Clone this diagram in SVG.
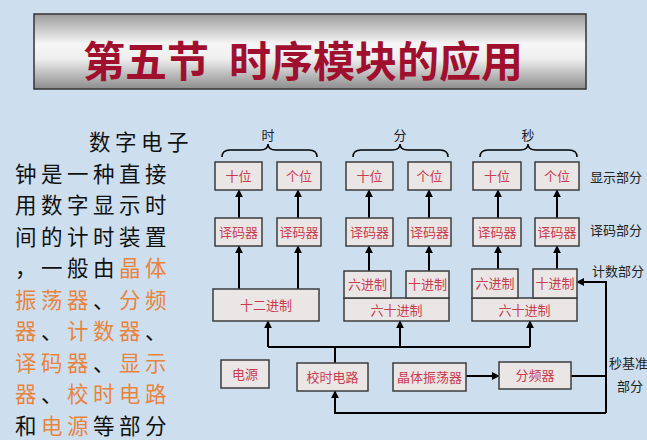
<svg xmlns="http://www.w3.org/2000/svg" width="647" height="440" viewBox="0 0 647 440">
<defs>
<linearGradient id="tg" x1="0" y1="0" x2="0" y2="1">
<stop offset="0" stop-color="#9c9c9c"/>
<stop offset="0.4" stop-color="#f6f6f6"/>
<stop offset="0.6" stop-color="#eeeeee"/>
<stop offset="1" stop-color="#8c8c8c"/>
</linearGradient>
<marker id="ah" viewBox="0 0 10 10" refX="9" refY="5" markerWidth="4" markerHeight="4" orient="auto" markerUnits="strokeWidth">
<path d="M0,0 L10,5 L0,10 z" fill="#000"/>
</marker>
</defs>
<style>
.bx{fill:#ebe6e6;stroke:#3c3c3c;stroke-width:1.5}
.bt{font-family:"Noto Sans CJK SC","Noto Sans CJK JP",sans-serif;font-size:13px;fill:#c83c50;text-anchor:middle}
.lb{font-family:"Noto Sans CJK SC","Noto Sans CJK JP",sans-serif;font-size:13px;fill:#222}
.ln{fill:none;stroke:#000;stroke-width:2}
.ar{fill:none;stroke:#000;stroke-width:2;marker-end:url(#ah)}
.br{fill:none;stroke:#000;stroke-width:1.5}
.pt{font-family:"Noto Sans CJK SC","Noto Sans CJK JP",sans-serif;font-size:21.5px;letter-spacing:4.5px;fill:#111}
.or{fill:#e8843e}
</style>
<rect x="0" y="0" width="647" height="440" fill="#cddfef"/>
<g id="title">
<rect x="34" y="14" width="552" height="75" fill="url(#tg)" stroke="#333" stroke-width="1.5"/>
<text font-family="'Noto Sans CJK SC','Noto Sans CJK JP',sans-serif" font-size="42" font-weight="bold" fill="#a0102e" y="77"><tspan x="83">第五节</tspan><tspan x="229">时序模块的应用</tspan></text>
</g>
<g id="intro">
<text class="pt"><tspan x="89" y="150">数字电子</tspan><tspan x="15" y="181.5">钟是一种直接</tspan><tspan x="15" y="213">用数字显示时</tspan><tspan x="15" y="244.5">间的计时装置</tspan><tspan x="15" y="276">，一般由</tspan><tspan class="or">晶体</tspan><tspan x="15" y="307.5" class="or">振荡器</tspan><tspan>、</tspan><tspan class="or">分频</tspan><tspan x="15" y="339" class="or">器</tspan><tspan>、</tspan><tspan class="or">计数器</tspan><tspan>、</tspan><tspan x="15" y="370.5" class="or">译码器</tspan><tspan>、</tspan><tspan class="or">显示</tspan><tspan x="15" y="402" class="or">器</tspan><tspan>、</tspan><tspan class="or">校时电路</tspan><tspan x="15" y="433.5">和</tspan><tspan class="or">电源</tspan><tspan>等部分</tspan></text>
</g>
<g id="group-labels">
<text class="lb" x="268" y="140" text-anchor="middle">时</text>
<text class="lb" x="400" y="140" text-anchor="middle">分</text>
<text class="lb" x="528" y="140" text-anchor="middle">秒</text>
<path class="br" d="M222,157 Q222,150 230,150 L260,150 Q268,150 268,144 Q268,150 276,150 L309,150 Q317,150 317,157"/>
<path class="br" d="M353,157 Q353,150 361,150 L392,150 Q400,150 400,144 Q400,150 408,150 L440,150 Q448,150 448,157"/>
<path class="br" d="M480,157 Q480,150 488,150 L520,150 Q528,150 528,144 Q528,150 536,150 L569,150 Q577,150 577,157"/>
</g>
<g id="side-labels" class="lb">
<text x="590" y="182">显示部分</text>
<text x="590" y="235">译码部分</text>
<text x="592" y="276">计数部分</text>
<text x="609" y="368">秒基准</text>
<text x="617" y="391">部分</text>
</g>
<g id="connectors">
<line class="ar" x1="239" y1="218" x2="239" y2="190"/>
<line class="ar" x1="298" y1="218" x2="298" y2="190"/>
<line class="ar" x1="369" y1="218" x2="369" y2="190"/>
<line class="ar" x1="429" y1="218" x2="429" y2="190"/>
<line class="ar" x1="498" y1="218" x2="498" y2="190"/>
<line class="ar" x1="557" y1="218" x2="557" y2="190"/>
<line class="ar" x1="239" y1="289" x2="239" y2="246"/>
<line class="ar" x1="298" y1="289" x2="298" y2="246"/>
<line class="ar" x1="369" y1="271" x2="369" y2="246"/>
<line class="ar" x1="429" y1="271" x2="429" y2="246"/>
<line class="ar" x1="498" y1="269" x2="498" y2="246"/>
<line class="ar" x1="557" y1="269" x2="557" y2="246"/>
<path class="ln" d="M268,347 L530,347 M335,363 L335,347"/>
<line class="ar" x1="268" y1="347" x2="268" y2="321"/>
<line class="ar" x1="400" y1="347" x2="400" y2="321"/>
<line class="ar" x1="530" y1="347" x2="530" y2="321"/>
<line class="ar" x1="466" y1="376" x2="499" y2="376"/>
<path class="ln" d="M571,376 L606,376"/>
<path class="ar" d="M606,413 L606,282 L577,282"/>
<path class="ar" d="M606,413 L335,413 L335,391"/>
</g>
<g id="hour-tens"><rect class="bx" x="215" y="162" width="47" height="28"/><text class="bt" x="238.5" y="181">十位</text></g>
<g id="hour-ones"><rect class="bx" x="277" y="162" width="44" height="28"/><text class="bt" x="299" y="181">个位</text></g>
<g id="min-tens"><rect class="bx" x="346" y="162" width="47" height="28"/><text class="bt" x="369.5" y="181">十位</text></g>
<g id="min-ones"><rect class="bx" x="408" y="162" width="43" height="28"/><text class="bt" x="429.5" y="181">个位</text></g>
<g id="sec-tens"><rect class="bx" x="473" y="162" width="48" height="28"/><text class="bt" x="497" y="181">十位</text></g>
<g id="sec-ones"><rect class="bx" x="535" y="162" width="44" height="28"/><text class="bt" x="557" y="181">个位</text></g>
<g id="dec-hour-tens"><rect class="bx" x="215" y="218" width="47" height="28"/><text class="bt" x="238.5" y="237">译码器</text></g>
<g id="dec-hour-ones"><rect class="bx" x="277" y="218" width="44" height="28"/><text class="bt" x="299" y="237">译码器</text></g>
<g id="dec-min-tens"><rect class="bx" x="346" y="218" width="47" height="28"/><text class="bt" x="369.5" y="237">译码器</text></g>
<g id="dec-min-ones"><rect class="bx" x="408" y="218" width="43" height="28"/><text class="bt" x="429.5" y="237">译码器</text></g>
<g id="dec-sec-tens"><rect class="bx" x="473" y="218" width="48" height="28"/><text class="bt" x="497" y="237">译码器</text></g>
<g id="dec-sec-ones"><rect class="bx" x="535" y="218" width="44" height="28"/><text class="bt" x="557" y="237">译码器</text></g>
<g id="cnt-hour"><rect class="bx" x="213" y="289" width="106" height="32"/><text class="bt" x="266" y="310">十二进制</text></g>
<g id="cnt-min">
<rect class="bx" x="344" y="298" width="105" height="23"/><text class="bt" x="396.5" y="315">六十进制</text>
<rect class="bx" x="344" y="271" width="47" height="27"/><text class="bt" x="367.5" y="289">六进制</text>
<rect class="bx" x="406" y="271" width="43" height="27"/><text class="bt" x="427.5" y="289">十进制</text>
</g>
<g id="cnt-sec">
<rect class="bx" x="472" y="298" width="105" height="23"/><text class="bt" x="524.5" y="315">六十进制</text>
<rect class="bx" x="472" y="269" width="46" height="29"/><text class="bt" x="495" y="288">六进制</text>
<rect class="bx" x="533" y="269" width="44" height="29"/><text class="bt" x="555" y="288">十进制</text>
</g>
<g id="power"><rect class="bx" x="221" y="360" width="48" height="28"/><text class="bt" x="245" y="379">电源</text></g>
<g id="timing-adjust"><rect class="bx" x="297" y="363" width="71" height="28"/><text class="bt" x="332.5" y="382">校时电路</text></g>
<g id="oscillator"><rect class="bx" x="393" y="363" width="73" height="28"/><text class="bt" x="429.5" y="382">晶体振荡器</text></g>
<g id="divider"><rect class="bx" x="499" y="362" width="72" height="27"/><text class="bt" x="535" y="380">分频器</text></g>
</svg>
